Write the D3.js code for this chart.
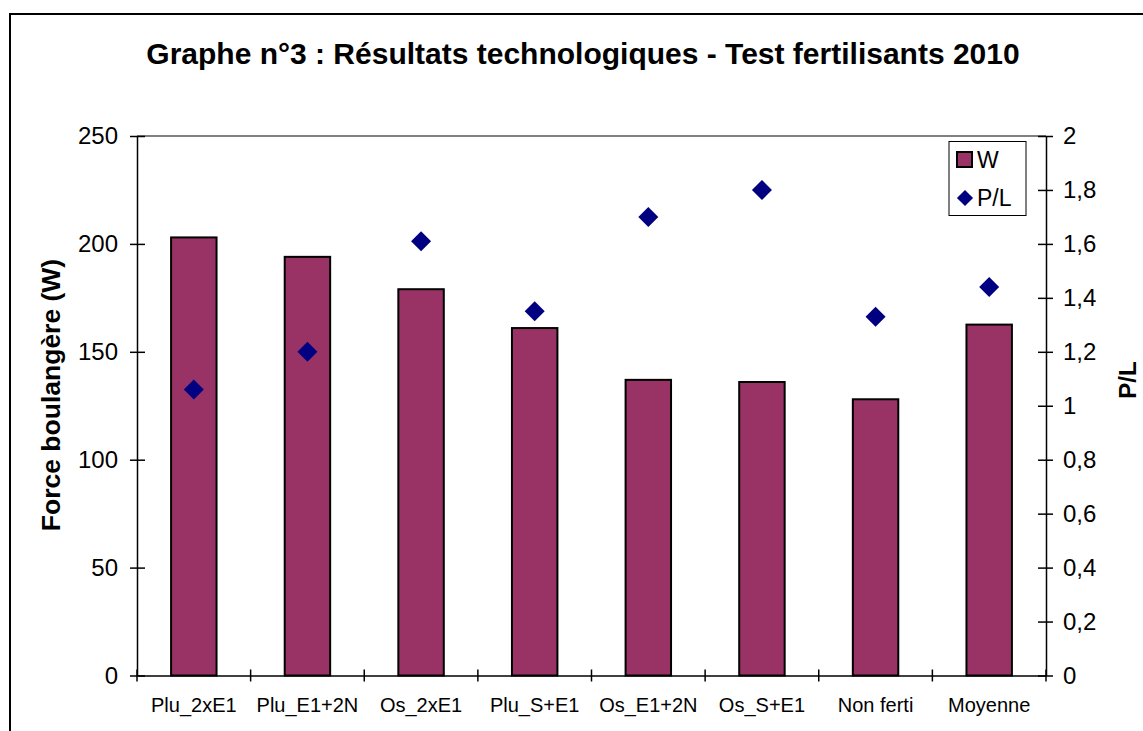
<!DOCTYPE html>
<html><head><meta charset="utf-8">
<script src="https://cdn.jsdelivr.net/npm/d3@7"></script>
<style>body{margin:0;background:#fff}svg{display:block}text{font-family:"Liberation Sans",Arial,sans-serif}</style>
</head><body>
<svg id="c" width="1143" height="731"></svg>
<script>
const categories = ["Plu_2xE1","Plu_E1+2N","Os_2xE1","Plu_S+E1","Os_E1+2N","Os_S+E1","Non ferti","Moyenne"];
const wValues = [203,194,179,161,137,136,128,162.6];
const plValues = [1.06,1.20,1.61,1.35,1.70,1.80,1.33,1.44];
const leftTicks = [0,50,100,150,200,250];
const rightTicks = [0,0.2,0.4,0.6,0.8,1,1.2,1.4,1.6,1.8,2];

const svg = d3.select("#c");
const L=137, R=1046, T=136, B=675.5;
const x = d3.scaleBand().domain(categories).range([L,R]).paddingInner(0).paddingOuter(0);
const yL = d3.scaleLinear().domain([0,250]).range([B,T]);
const yR = d3.scaleLinear().domain([0,2]).range([B,T]);

// outer frame
svg.append("rect").attr("x",10).attr("y",14).attr("width",1145).attr("height",740)
  .attr("fill","none").attr("stroke","#000").attr("stroke-width",2);

// title
svg.append("text").attr("x",583).attr("y",64).attr("text-anchor","middle")
  .attr("font-weight","bold").attr("font-size",30).text("Graphe n°3 : Résultats technologiques - Test fertilisants 2010");

// top border
svg.append("line").attr("x1",L).attr("x2",R).attr("y1",T).attr("y2",T).attr("stroke","#808080").attr("stroke-width",2);

// bars
const bw = x.bandwidth()*0.4;
svg.selectAll("rect.bar").data(categories).enter().append("rect").attr("class","bar")
  .attr("x",(d)=>x(d)+x.bandwidth()/2-bw/2).attr("width",bw)
  .attr("y",(d,i)=>yL(wValues[i])).attr("height",(d,i)=>B-yL(wValues[i]))
  .attr("fill","#993366").attr("stroke","#000").attr("stroke-width",2);

// axes
function styleAxis(g){
  g.selectAll("path").attr("stroke","#000").attr("stroke-width",1.5);
  g.selectAll("line").attr("stroke","#000").attr("stroke-width",1.5);
  g.selectAll("text").attr("font-family","Liberation Sans, Arial, sans-serif").attr("fill","#000");
}
const gL = svg.append("g").attr("transform",`translate(${L},0)`)
  .call(d3.axisLeft(yL).tickValues(leftTicks).tickSizeInner(7).tickSizeOuter(0).tickPadding(12));
gL.selectAll(".tick line").attr("x2",-7).attr("x1",8);
gL.selectAll("text").attr("font-size",24);
styleAxis(gL);

const gR = svg.append("g").attr("transform",`translate(${R},0)`)
  .call(d3.axisRight(yR).tickValues(rightTicks).tickSizeInner(7).tickSizeOuter(0).tickPadding(10)
  .tickFormat(d=> d===0||d===1||d===2 ? String(d) : d.toFixed(1).replace(".",",")));
gR.selectAll(".tick line").attr("x1",-8).attr("x2",7);
gR.selectAll("text").attr("font-size",24);
styleAxis(gR);

const gB = svg.append("g").attr("transform",`translate(0,${B})`)
  .call(d3.axisBottom(x).tickSize(0).tickPadding(22));
gB.selectAll("text").attr("font-size",20);
styleAxis(gB);
// boundary ticks
const bounds = categories.map(c=>x(c)).concat([R]);
svg.selectAll("line.bt").data(bounds).enter().append("line").attr("class","bt")
  .attr("x1",d=>d).attr("x2",d=>d).attr("y1",B-6).attr("y2",B+6).attr("stroke","#000").attr("stroke-width",1.5);

// diamonds
const diamond = d3.symbol().type(d3.symbolSquare).size(200);
svg.selectAll("path.pl").data(categories).enter().append("path").attr("class","pl")
  .attr("d",diamond)
  .attr("transform",(d,i)=>`translate(${x(d)+x.bandwidth()/2},${yR(plValues[i])}) rotate(45)`)
  .attr("fill","#000080");

// axis titles
svg.append("text").attr("transform","translate(60,395) rotate(-90)").attr("text-anchor","middle")
  .attr("font-weight","bold").attr("font-size",26.5).text("Force boulangère (W)");
svg.append("text").attr("transform","translate(1136,380) rotate(-90)").attr("text-anchor","middle")
  .attr("font-weight","bold").attr("font-size",24).text("P/L");

// legend
const lg = svg.append("g");
lg.append("rect").attr("x",949).attr("y",141.5).attr("width",77).attr("height",74)
  .attr("fill","#fff").attr("stroke","#000").attr("stroke-width",1);
lg.append("rect").attr("x",957).attr("y",152).attr("width",15).attr("height",15)
  .attr("fill","#993366").attr("stroke","#000").attr("stroke-width",2);
lg.append("text").attr("x",977).attr("y",168).attr("font-size",23).text("W");
lg.append("path").attr("d",d3.symbol().type(d3.symbolSquare).size(130))
  .attr("transform","translate(965,198) rotate(45)").attr("fill","#000080");
lg.append("text").attr("x",977).attr("y",206).attr("font-size",23).text("P/L");
</script>
</body></html>
